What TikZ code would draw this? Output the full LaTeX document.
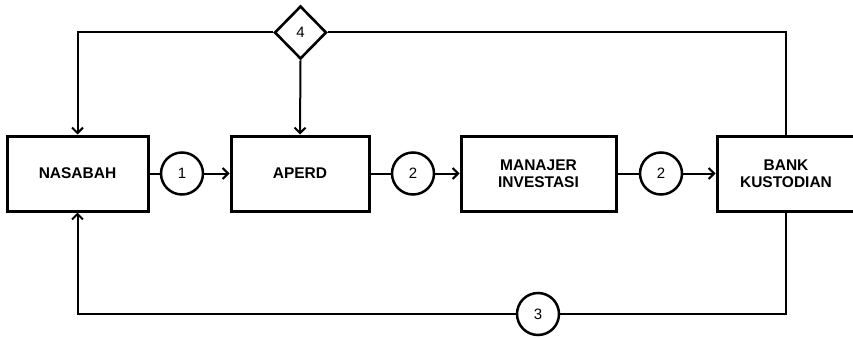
\documentclass[tikz,border=0pt]{standalone}
\usepackage{fontspec}
\setmainfont{Liberation Sans}
\usetikzlibrary{arrows.meta,shapes.geometric}
\begin{document}
\begin{tikzpicture}[x=1pt,y=-1pt,
  box/.style={draw,line width=3pt,minimum width=#1,minimum height=75pt,inner sep=0pt,align=center,font=\fontsize{15.5}{17}\selectfont\bfseries},
  num/.style={draw,circle,line width=2.5pt,minimum size=42pt,inner sep=0pt,font=\fontsize{15}{17}\selectfont},
  dia/.style={draw,diamond,line width=2.6pt,minimum width=52pt,minimum height=53pt,inner sep=0pt,font=\fontsize{15}{17}\selectfont},
  conn/.style={line width=2pt},
  arr/.style={conn,-{Straight Barb[length=5.5pt,width=11pt,line width=2pt]}}]
\useasboundingbox (0,0) rectangle (853,337);
\clip (0,0) rectangle (853,337);
\fill[white] (0,0) rectangle (853,337);
\node[box=141pt] (nas) at (77.5,173.5) {NASABAH};
\node[box=138pt] (ape) at (300,173.5) {APERD};
\node[box=155pt] (man) at (538.5,173.5) {MANAJER\\INVESTASI};
\node[box=138pt] (bank) at (786,173.5) {BANK\\KUSTODIAN};
\node[num] (c1) at (182,173.5) {1};
\node[num] (c2a) at (413,173.5) {2};
\node[num] (c2b) at (661,173.5) {2};
\node[num] (c3) at (538,314) {3};
\node[dia] (d4) at (300.5,32.5) {4};
\coordinate (tl) at (77.5,32.5);
\coordinate (tr) at (786,32.5);
\coordinate (bl) at (77.5,314);
\coordinate (br) at (786,314);
\draw[conn] (nas.east) -- (c1.west);
\draw[arr] (c1.east) -- (ape.west);
\draw[conn] (ape.east) -- (c2a.west);
\draw[arr] (c2a.east) -- (man.west);
\draw[conn] (man.east) -- (c2b.west);
\draw[arr] (c2b.east) -- (bank.west);
\draw[arr] (d4.west) -- (tl) -- (nas.north);
\draw[arr] (d4.south) -- (ape.north);
\draw[conn] (d4.east) -- (tr) -- (bank.north);
\draw[conn] (bank.south) -- (br) -- (c3.east);
\draw[arr] (c3.west) -- (bl) -- (nas.south);
\end{tikzpicture}
\end{document}
